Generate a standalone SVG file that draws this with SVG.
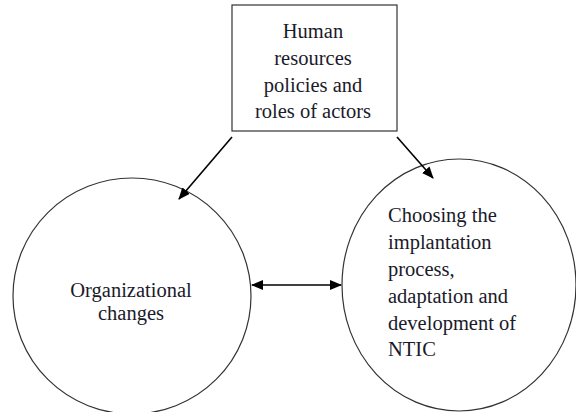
<svg xmlns="http://www.w3.org/2000/svg" width="576" height="412" viewBox="0 0 576 412">
<style>
.shape{fill:#fff;stroke:#333;stroke-width:1.2}
.t{font-family:'Liberation Serif',serif;font-size:20.5px;fill:#1a1a2a}
.c{stroke:#000;stroke-width:1.6;fill:none}
</style>
<defs>
<marker id="ah" viewBox="0 0 12 10" refX="11" refY="5" markerWidth="12" markerHeight="10" markerUnits="userSpaceOnUse" orient="auto-start-reverse">
<path d="M0,0 L12,5 L0,10 z" fill="#000"/>
</marker>
</defs>
<rect width="576" height="412" fill="#fff"/>
<g id="node-hr">
<rect class="shape" x="232" y="5" width="165" height="126"/>
<text class="t" font-family="Liberation Serif, serif" text-anchor="middle"><tspan x="313" y="38">Human</tspan><tspan x="313" y="65">resources</tspan><tspan x="313" y="92">policies and</tspan><tspan x="313" y="118">roles of actors</tspan></text>
</g>
<g id="node-org">
<ellipse class="shape" cx="132" cy="296" rx="119" ry="118"/>
<text class="t" font-family="Liberation Serif, serif" text-anchor="middle"><tspan x="131" y="297">Organizational</tspan><tspan x="131" y="320">changes</tspan></text>
</g>
<g id="node-ntic">
<ellipse class="shape" cx="459" cy="285" rx="117" ry="126"/>
<text class="t" font-family="Liberation Serif, serif"><tspan x="388" y="222">Choosing the</tspan><tspan x="388" y="249">implantation</tspan><tspan x="388" y="276">process,</tspan><tspan x="388" y="303">adaptation and</tspan><tspan x="388" y="330">development of</tspan><tspan x="388" y="356">NTIC</tspan></text>
</g>
<g id="connectors">
<line class="c" x1="232" y1="137" x2="179" y2="199" marker-end="url(#ah)"/>
<line class="c" x1="397" y1="137" x2="433" y2="178" marker-end="url(#ah)"/>
<line class="c" x1="252" y1="285" x2="341" y2="285" marker-start="url(#ah)" marker-end="url(#ah)"/>
</g>
</svg>
